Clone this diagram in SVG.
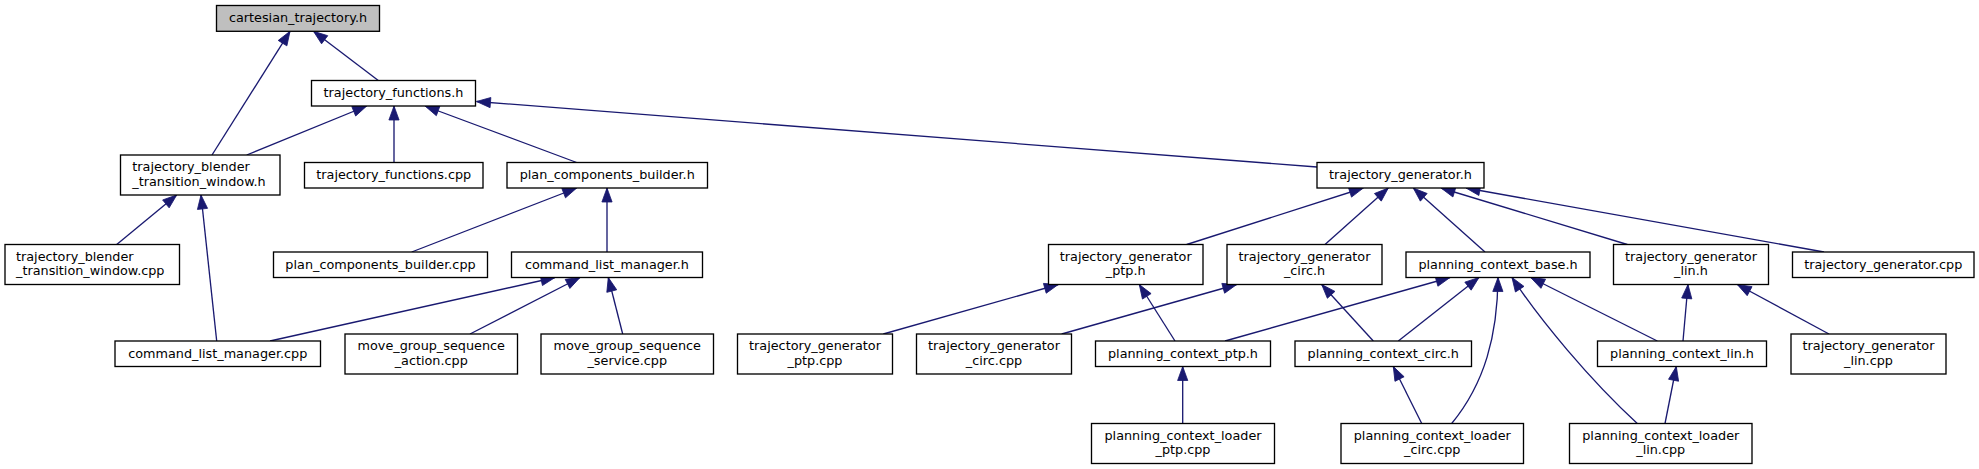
<svg xmlns="http://www.w3.org/2000/svg" width="1979" height="469" viewBox="0 0 1979 469">
<style>
.node rect{fill:#ffffff;stroke:#000000;stroke-width:1.33}
.node.root rect{fill:#bfbfbf}
.node text{font-family:"DejaVu Sans",sans-serif;font-size:12.8px;fill:#000000;text-anchor:middle}
.node text.l{text-anchor:start}
.edge{fill:none;stroke:#191970;stroke-width:1.33;marker-end:url(#ah)}
</style>
<defs>
<marker id="ah" markerUnits="userSpaceOnUse" markerWidth="15" markerHeight="12" viewBox="0 0 15 12" refX="14" refY="6" orient="auto" overflow="visible">
<path d="M0,0.9 L14,6 L0,11.1 z" fill="#191970" stroke="#191970" stroke-width="0.8" stroke-linejoin="miter"/>
</marker>
</defs>
<rect width="1979" height="469" fill="#ffffff"/>
<g id="connectors">
<path class="edge" d="M378.3,80.5 L313.5,31.3"/>
<path class="edge" d="M212,155 L290,31.3"/>
<path class="edge" d="M246.7,155 L366.7,106"/>
<path class="edge" d="M394,162.5 L394,106"/>
<path class="edge" d="M576.7,162.5 L425,106"/>
<path class="edge" d="M1317,167 L476.5,101.5"/>
<path class="edge" d="M116.7,244.5 L176.7,195"/>
<path class="edge" d="M216.7,341 L201,195"/>
<path class="edge" d="M411.7,252 L576.7,188"/>
<path class="edge" d="M607,252 L607,188"/>
<path class="edge" d="M270,341 L555,277.5"/>
<path class="edge" d="M470,334 L580,277.5"/>
<path class="edge" d="M622.7,334 L608.3,277.5"/>
<path class="edge" d="M1186.7,244.5 L1363.3,188"/>
<path class="edge" d="M1325,244.5 L1388.3,188"/>
<path class="edge" d="M1485,252 L1413.3,188"/>
<path class="edge" d="M1627.3,244.5 L1441,188"/>
<path class="edge" d="M1824,252 L1466,188"/>
<path class="edge" d="M883.3,334 L1058.3,284.5"/>
<path class="edge" d="M1175,341 L1139.3,284.5"/>
<path class="edge" d="M1061.7,334 L1236.7,284.5"/>
<path class="edge" d="M1373.3,341 L1321.7,284.5"/>
<path class="edge" d="M1225,341 L1450,277.5"/>
<path class="edge" d="M1398.3,341 L1479,277.5"/>
<path class="edge" d="M1451.7,423.5 C1485,383 1497.5,335 1498,277.5"/>
<path class="edge" d="M1637.3,423.5 C1590,380 1540,320 1512,277.5"/>
<path class="edge" d="M1657.3,341 L1530.7,277.5"/>
<path class="edge" d="M1683,341 L1688,284.5"/>
<path class="edge" d="M1829,334 L1737.3,284.5"/>
<path class="edge" d="M1182.7,423.5 L1182.7,366.5"/>
<path class="edge" d="M1421.7,423.5 L1393.3,366.5"/>
<path class="edge" d="M1665,423.5 L1676.3,366.5"/>
</g>
<g id="n1" class="node root"><rect x="216.5" y="5.5" width="163" height="25.8"/><text x="298" y="22">cartesian_trajectory.h</text></g>
<g id="n2" class="node"><rect x="311.5" y="80.5" width="164" height="25.5"/><text x="393.5" y="97">trajectory_functions.h</text></g>
<g id="n3" class="node"><rect x="120.5" y="155" width="159.5" height="40"/><text class="l" x="132.3" y="171">trajectory_blender</text><text class="l" x="132.3" y="185.5">_transition_window.h</text></g>
<g id="n4" class="node"><rect x="304.5" y="162.5" width="178.5" height="25.5"/><text x="393.75" y="179">trajectory_functions.cpp</text></g>
<g id="n5" class="node"><rect x="507" y="162.5" width="200.5" height="25.5"/><text x="607.25" y="179">plan_components_builder.h</text></g>
<g id="n6" class="node"><rect x="5" y="244.5" width="174.5" height="40"/><text class="l" x="16" y="260.5">trajectory_blender</text><text class="l" x="16" y="275">_transition_window.cpp</text></g>
<g id="n7" class="node"><rect x="273.5" y="252" width="214" height="25.5"/><text x="380.5" y="268.5">plan_components_builder.cpp</text></g>
<g id="n8" class="node"><rect x="511.5" y="252" width="191" height="25.5"/><text x="607" y="268.5">command_list_manager.h</text></g>
<g id="n9" class="node"><rect x="115" y="341" width="205.5" height="25.5"/><text x="217.75" y="357.5">command_list_manager.cpp</text></g>
<g id="n10" class="node"><rect x="345" y="334" width="172.5" height="40"/><text x="431.25" y="350">move_group_sequence</text><text x="431.25" y="364.5">_action.cpp</text></g>
<g id="n11" class="node"><rect x="541" y="334" width="172.5" height="40"/><text x="627.25" y="350">move_group_sequence</text><text x="627.25" y="364.5">_service.cpp</text></g>
<g id="n12" class="node"><rect x="1317" y="162.5" width="167" height="25.5"/><text x="1400.5" y="179">trajectory_generator.h</text></g>
<g id="n13" class="node"><rect x="1048.5" y="244.5" width="154.5" height="40"/><text x="1125.75" y="260.5">trajectory_generator</text><text x="1125.75" y="275">_ptp.h</text></g>
<g id="n14" class="node"><rect x="1227" y="244.5" width="155" height="40"/><text x="1304.5" y="260.5">trajectory_generator</text><text x="1304.5" y="275">_circ.h</text></g>
<g id="n15" class="node"><rect x="1406" y="252" width="184" height="25.5"/><text x="1498" y="268.5">planning_context_base.h</text></g>
<g id="n16" class="node"><rect x="1613.5" y="244.5" width="155" height="40"/><text x="1691" y="260.5">trajectory_generator</text><text x="1691" y="275">_lin.h</text></g>
<g id="n17" class="node"><rect x="1792.5" y="252" width="181.5" height="25.5"/><text x="1883.25" y="268.5">trajectory_generator.cpp</text></g>
<g id="n18" class="node"><rect x="737.5" y="334" width="155" height="40"/><text x="815" y="350">trajectory_generator</text><text x="815" y="364.5">_ptp.cpp</text></g>
<g id="n19" class="node"><rect x="916.5" y="334" width="155" height="40"/><text x="994" y="350">trajectory_generator</text><text x="994" y="364.5">_circ.cpp</text></g>
<g id="n20" class="node"><rect x="1095.5" y="341" width="175" height="25.5"/><text x="1183" y="357.5">planning_context_ptp.h</text></g>
<g id="n21" class="node"><rect x="1295" y="341" width="176.5" height="25.5"/><text x="1383.25" y="357.5">planning_context_circ.h</text></g>
<g id="n22" class="node"><rect x="1597.5" y="341" width="169" height="25.5"/><text x="1682" y="357.5">planning_context_lin.h</text></g>
<g id="n23" class="node"><rect x="1791" y="334" width="155" height="40"/><text x="1868.5" y="350">trajectory_generator</text><text x="1868.5" y="364.5">_lin.cpp</text></g>
<g id="n24" class="node"><rect x="1091.5" y="423.5" width="183" height="40"/><text x="1183" y="439.5">planning_context_loader</text><text x="1183" y="454">_ptp.cpp</text></g>
<g id="n25" class="node"><rect x="1341" y="423.5" width="182.5" height="40"/><text x="1432.25" y="439.5">planning_context_loader</text><text x="1432.25" y="454">_circ.cpp</text></g>
<g id="n26" class="node"><rect x="1569.5" y="423.5" width="182.5" height="40"/><text x="1660.75" y="439.5">planning_context_loader</text><text x="1660.75" y="454">_lin.cpp</text></g>
</svg>
